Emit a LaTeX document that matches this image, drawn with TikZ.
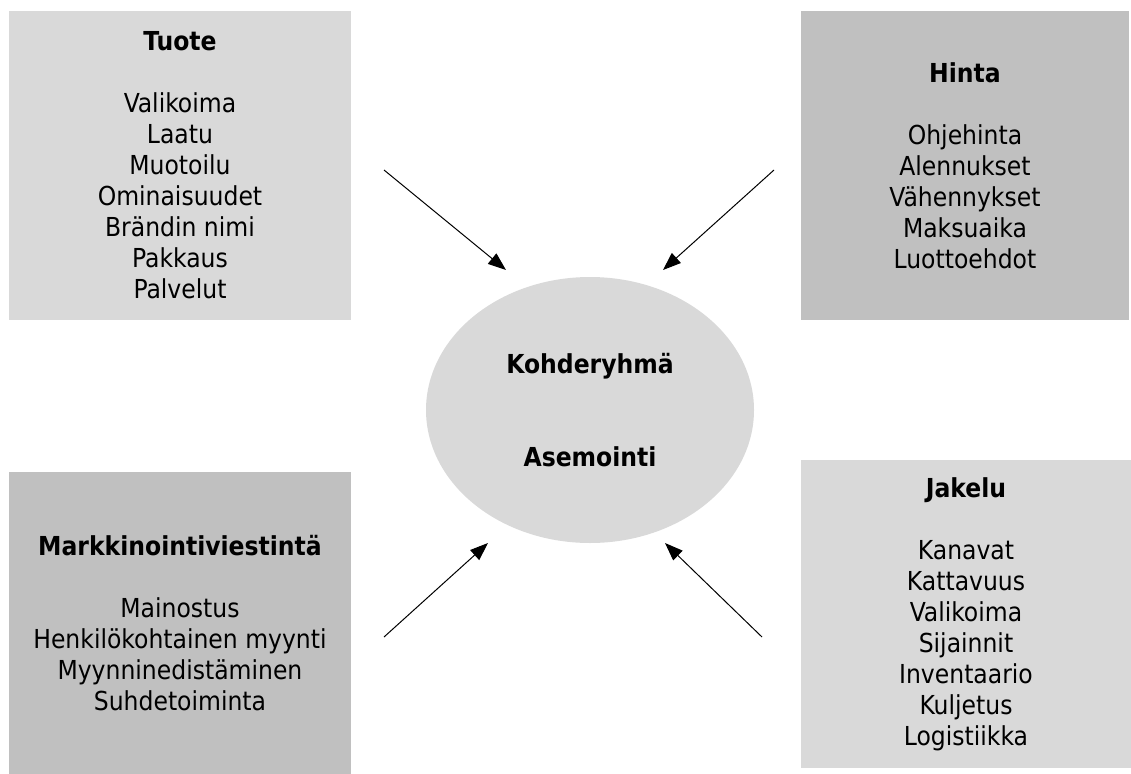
\documentclass[tikz,border=0pt]{standalone}
\usepackage{fontspec}
\setmainfont{DejaVu Sans Condensed}
\usetikzlibrary{arrows.meta}
\definecolor{boxlight}{HTML}{D9D9D9}
\definecolor{boxdark}{HTML}{C0C0C0}
\tikzset{
  px/.style={x=0.75pt,y=-0.75pt},
  mixbox/.style={draw=none,rectangle,inner sep=0pt,align=center,
    font=\fontsize{19.6pt}{23.25pt}\selectfont},
  hub/.style={ellipse,draw=none,fill=boxlight,inner sep=0pt,align=center,
    font=\fontsize{19.6pt}{23.25pt}\selectfont\bfseries},
  feed/.style={line width=0.75pt,-{Triangle[length=13.5pt,width=10pt]}}
}
\usetikzlibrary{shapes.geometric}
\begin{document}
\begin{tikzpicture}[px]
\useasboundingbox (0,0) rectangle (1131,774);
% boxes
\node[mixbox,fill=boxlight,minimum width=342*0.75pt,minimum height=309*0.75pt] (tuote) at (180,165.5)
  {\textbf{Tuote}\\[23.25pt]Valikoima\\Laatu\\Muotoilu\\Ominaisuudet\\Brändin nimi\\Pakkaus\\Palvelut};
\node[mixbox,fill=boxdark,minimum width=328*0.75pt,minimum height=309*0.75pt] (hinta) at (965,165.5)
  {\textbf{Hinta}\\[23.25pt]Ohjehinta\\Alennukset\\Vähennykset\\Maksuaika\\Luottoehdot};
\node[mixbox,fill=boxdark,minimum width=342*0.75pt,minimum height=302*0.75pt] (markk) at (180,623)
  {\textbf{Markkinointiviestintä}\\[23.25pt]Mainostus\\Henkilökohtainen myynti\\Myynninedistäminen\\Suhdetoiminta};
\node[mixbox,fill=boxlight,minimum width=330*0.75pt,minimum height=308*0.75pt] (jakelu) at (966,614)
  {\textbf{Jakelu}\\[23.25pt]Kanavat\\Kattavuus\\Valikoima\\Sijainnit\\Inventaario\\Kuljetus\\Logistiikka};
% center
\node[hub,minimum width=328*0.75pt,minimum height=266*0.75pt] (kohde) at (590,410)
  {Kohderyhmä\\[46.5pt]Asemointi};
% arrow ends
\coordinate (t1) at (384,170); \coordinate (t2) at (506,270);
\coordinate (h1) at (774,170); \coordinate (h2) at (663,270);
\coordinate (m1) at (384,637); \coordinate (m2) at (488,543);
\coordinate (j1) at (762,637); \coordinate (j2) at (665,543);
\draw[feed] (t1) -- (t2);
\draw[feed] (h1) -- (h2);
\draw[feed] (m1) -- (m2);
\draw[feed] (j1) -- (j2);
\end{tikzpicture}
\end{document}
